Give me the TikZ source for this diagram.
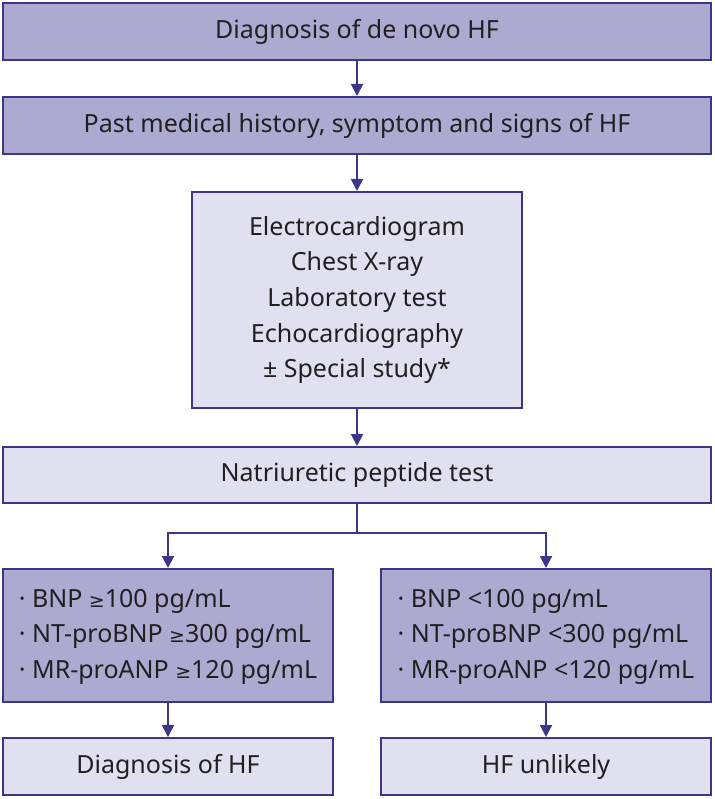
\documentclass[tikz,border=0pt]{standalone}
\usepackage{fontspec}
\setmainfont{Noto Sans}
\newfontfamily\symfont{DejaVu Sans}
\newcommand{\geqsym}{{\symfont\fontsize{19}{19}\selectfont ≥}}
\newcommand{\listlines}[3]{\raisebox{-5pt}{\begin{tabular}{@{}l@{}}#1\\#2\\#3\end{tabular}}}
\usetikzlibrary{arrows.meta}
\definecolor{edge}{HTML}{3B3687}
\definecolor{darkfill}{HTML}{ADAAD2}
\definecolor{lightfill}{HTML}{E1E0F0}
\definecolor{txt}{HTML}{231F20}
\begin{document}
\begin{tikzpicture}[x=1pt,y=1pt,
  box/.style={draw=edge, line width=2pt, rectangle, inner sep=0pt, text=txt,
    font=\fontsize{25}{35.6}\selectfont, align=center},
  darkbox/.style={box, fill=darkfill},
  lightbox/.style={box, fill=lightfill},
  conn/.style={draw=edge, line width=2pt},
  arr/.style={conn, -{Triangle[length=12pt,width=12pt]}}]
\useasboundingbox (0,0) rectangle (714,-799);
\node[darkbox, minimum width=708pt, minimum height=57pt] (b1) at (357,-31.5) {Diagnosis of de novo HF};
\node[darkbox, minimum width=708pt, minimum height=57pt] (b2) at (357,-125.5) {Past medical history, symptom and signs of HF};
\node[lightbox, minimum width=330pt, minimum height=216pt] (b3) at (357,-300) {Electrocardiogram\\Chest X-ray\\Laboratory test\\Echocardiography\\± Special study*};
\node[lightbox, minimum width=708pt, minimum height=56pt] (b4) at (357,-475) {Natriuretic peptide test};
\node[darkbox, minimum width=330pt, minimum height=133pt] (b5) at (168,-635.5) {\listlines{· BNP \geqsym100 pg/mL}{· NT-proBNP \geqsym300 pg/mL}{· MR-proANP \geqsym120 pg/mL}};
\node[darkbox, minimum width=330pt, minimum height=133pt] (b6) at (546,-635.5) {\listlines{· BNP <100 pg/mL}{· NT-proBNP <300 pg/mL}{· MR-proANP <120 pg/mL}};
\node[lightbox, minimum width=330pt, minimum height=57pt] (b7) at (168,-766.5) {Diagnosis of HF};
\node[lightbox, minimum width=330pt, minimum height=57pt] (b8) at (546,-766.5) {HF unlikely};
\draw[arr] (b1.south) -- (b2.north);
\draw[arr] (b2.south) -- (b3.north);
\draw[arr] (b3.south) -- (b4.north);
\draw[conn] (b4.south) -- ++(0,-29) coordinate (split);
\draw[arr] (split) -| (b5.north);
\draw[arr] (split) -| (b6.north);
\draw[arr] (b5.south) -- (b7.north);
\draw[arr] (b6.south) -- (b8.north);
\end{tikzpicture}
\end{document}
